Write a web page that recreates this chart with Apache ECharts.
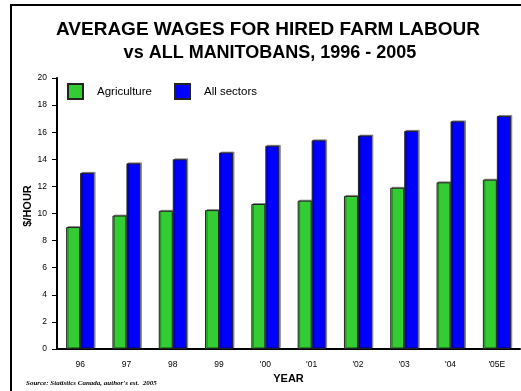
<!DOCTYPE html>
<html>
<head>
<meta charset="utf-8">
<script src="https://cdn.jsdelivr.net/npm/echarts@6/dist/echarts.min.js"></script>
<style>html,body{margin:0;padding:0;background:#fff;}#c{width:521px;height:391px;}</style>
</head>
<body>
<div id="c"></div>
<script>
const categories = ['96', '97', '98', '99', "'00", "'01", "'02", "'03", "'04", "'05E"];
const agriculture = [9.0, 9.85, 10.2, 10.25, 10.7, 10.95, 11.3, 11.9, 12.3, 12.5];
const allSectors = [13.0, 13.7, 14.0, 14.5, 15.0, 15.4, 15.75, 16.1, 16.8, 17.2];
const yTicks = { min: 0, max: 20, interval: 2 };

const chart = echarts.init(document.getElementById('c'), null, { renderer: 'canvas' });
const F = 'Liberation Sans, Arial, sans-serif';
const barStyle = (c) => ({
  color: c, borderColor: '#222', borderWidth: 1,
  shadowColor: 'rgba(0,0,0,0.35)', shadowOffsetX: 1.5, shadowOffsetY: -1, shadowBlur: 0
});
chart.setOption({
  animation: false,
  backgroundColor: '#fff',
  grid: { left: 57, right: 1, top: 78, bottom: 42, containLabel: false },
  legend: [
    { left: 67, top: 83, padding: 0, itemWidth: 15, itemHeight: 15, icon: 'rect',
      data: ['Agriculture'], textStyle: { fontFamily: F, fontSize: 11.5, color: '#000', padding: [0, 0, 0, 9] } },
    { left: 174, top: 83, padding: 0, itemWidth: 15, itemHeight: 15, icon: 'rect',
      data: ['All sectors'], textStyle: { fontFamily: F, fontSize: 11.5, color: '#000', padding: [0, 0, 0, 9] } }
  ],
  xAxis: {
    type: 'category', data: categories, boundaryGap: true,
    name: 'YEAR', nameLocation: 'middle', nameGap: 23,
    nameTextStyle: { fontFamily: F, fontSize: 11, fontWeight: 'bold', color: '#000' },
    axisLine: { lineStyle: { color: '#000', width: 2 } },
    axisTick: { alignWithLabel: true, length: 5, lineStyle: { color: '#000', width: 1 } },
    axisLabel: { fontFamily: F, fontSize: 8.5, color: '#000', margin: 11 },
    splitLine: { show: false }
  },
  yAxis: {
    type: 'value', min: yTicks.min, max: yTicks.max, interval: yTicks.interval,
    axisLine: { show: true, lineStyle: { color: '#000', width: 2 } },
    axisTick: { show: true, length: 5, lineStyle: { color: '#000', width: 1 } },
    axisLabel: { fontFamily: F, fontSize: 8.5, color: '#000', margin: 10 },
    splitLine: { show: false }
  },
  series: [
    { name: 'Agriculture', type: 'bar', data: agriculture, barWidth: 14, barGap: '0%', itemStyle: barStyle('#33cc33') },
    { name: 'All sectors', type: 'bar', data: allSectors, barWidth: 14, barGap: '0%', itemStyle: barStyle('#0000ff') }
  ],
  graphic: [
    { type: 'rect', shape: { x: 11, y: 5, width: 700, height: 600 }, style: { fill: 'none', stroke: '#000', lineWidth: 2 }, silent: true, z: 100 },
    { type: 'text', x: 268, y: 30, style: { text: 'AVERAGE WAGES FOR HIRED FARM LABOUR', font: 'bold 19px ' + F, fill: '#000', textAlign: 'center', textVerticalAlign: 'middle' } },
    { type: 'text', x: 270, y: 53, style: { text: 'vs ALL MANITOBANS, 1996 - 2005', font: 'bold 18px ' + F, fill: '#000', textAlign: 'center', textVerticalAlign: 'middle' } },
    { type: 'text', x: 28, y: 206, rotation: Math.PI / 2, style: { text: '$/HOUR', font: 'bold 11px ' + F, fill: '#000', textAlign: 'center', textVerticalAlign: 'middle' } },
    { type: 'text', x: 26, y: 383, style: { text: "Source: Statistics Canada, author's est.  2005", font: 'italic bold 7px Liberation Serif, Times New Roman, serif', fill: '#000', textAlign: 'left', textVerticalAlign: 'middle' } }
  ]
});
</script>
</body>
</html>
